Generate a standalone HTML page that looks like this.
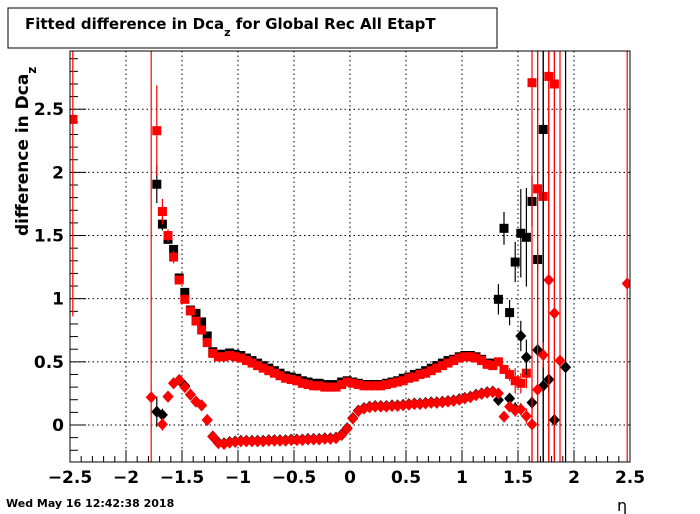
<!DOCTYPE html>
<html><head><meta charset="utf-8"><style>
html,body{margin:0;padding:0;background:#fff;width:700px;height:514px;overflow:hidden;}
svg{display:block;font-family:"DejaVu Sans","Liberation Sans",sans-serif;}
</style></head><body>
<svg id="c" width="700" height="514" viewBox="0 0 700 514" xmlns="http://www.w3.org/2000/svg">
<defs><clipPath id="fr"><rect x="70" y="51" width="560" height="411"/></clipPath></defs>
<rect x="0" y="0" width="700" height="514" fill="#fff"/>
<g id="grid"></g>
<g id="axes"></g>
<g id="marks" clip-path="url(#fr)"></g>
<rect x="70" y="51" width="560" height="411" fill="none" stroke="#000" stroke-width="1"/>
<rect x="8" y="8" width="489" height="40" fill="#fff" stroke="#000" stroke-width="1"/>
<text x="25" y="29" font-size="15" font-weight="bold">Fitted difference in Dca<tspan font-size="11" dy="7">z</tspan><tspan dy="-7"> for Global Rec All EtapT</tspan></text>
<text transform="translate(28,236) rotate(-90)" font-size="17" font-weight="bold">difference in Dca<tspan font-size="12" dy="8">z</tspan></text>
<text x="617" y="511" font-size="16">η</text>
<text x="6" y="507" font-size="11" font-weight="bold">Wed May 16 12:42:38 2018</text>
</svg>
<script>
// axis tick labels
const xTicks = [-2.5,-2,-1.5,-1,-0.5,0,0.5,1,1.5,2,2.5];
const xTickLabels = ["\u22122.5","\u22122","\u22121.5","\u22121","\u22120.5","0","0.5","1","1.5","2","2.5"];
const yTicks = [0,0.5,1,1.5,2,2.5];
const yTickLabels = ["0","0.5","1","1.5","2","2.5"];

// smooth region bin centers
const smoothEta = [-1.175,-1.125,-1.075,-1.025,-0.975,-0.925,-0.875,-0.825,-0.775,-0.725,-0.675,-0.625,-0.575,-0.525,-0.475,-0.425,-0.375,-0.325,-0.275,-0.225,-0.175,-0.125,-0.075,-0.025,0.025,0.075,0.125,0.175,0.225,0.275,0.325,0.375,0.425,0.475,0.525,0.575,0.625,0.675,0.725,0.775,0.825,0.875,0.925,0.975,1.025,1.075,1.125,1.175,1.225,1.275];
const redSqSmooth = [0.54,0.54,0.55,0.54,0.53,0.51,0.49,0.47,0.45,0.43,0.41,0.39,0.37,0.36,0.35,0.33,0.32,0.31,0.31,0.30,0.30,0.30,0.32,0.34,0.33,0.32,0.31,0.31,0.31,0.31,0.32,0.33,0.34,0.35,0.37,0.38,0.40,0.41,0.43,0.45,0.47,0.49,0.51,0.53,0.54,0.54,0.53,0.51,0.48,0.47];
const blackSqSmooth = [0.56,0.56,0.57,0.56,0.55,0.53,0.51,0.49,0.47,0.45,0.43,0.41,0.39,0.38,0.37,0.35,0.34,0.33,0.33,0.32,0.32,0.32,0.34,0.35,0.34,0.33,0.32,0.32,0.32,0.32,0.33,0.34,0.35,0.37,0.38,0.40,0.41,0.43,0.45,0.47,0.49,0.51,0.52,0.54,0.55,0.55,0.54,0.52,0.49,0.49];
const redDiaSmooth = [-0.145,-0.15,-0.14,-0.135,-0.13,-0.13,-0.13,-0.13,-0.13,-0.125,-0.125,-0.125,-0.125,-0.12,-0.12,-0.12,-0.115,-0.115,-0.115,-0.11,-0.11,-0.105,-0.08,-0.03,0.05,0.11,0.13,0.14,0.145,0.145,0.145,0.15,0.15,0.155,0.16,0.165,0.165,0.17,0.175,0.175,0.18,0.185,0.19,0.20,0.21,0.22,0.235,0.245,0.255,0.26];
const blackDiaSmooth = [-0.14,-0.145,-0.135,-0.13,-0.125,-0.125,-0.125,-0.125,-0.125,-0.12,-0.12,-0.12,-0.12,-0.115,-0.115,-0.115,-0.11,-0.11,-0.11,-0.105,-0.105,-0.1,-0.075,-0.025,0.055,0.115,0.135,0.145,0.15,0.15,0.15,0.155,0.155,0.16,0.165,0.17,0.17,0.175,0.18,0.18,0.185,0.19,0.195,0.205,0.215,0.225,0.24,0.25,0.26,0.265];

// irregular bins with errors
const blackSqEta = [-1.725,-1.675,-1.625,-1.575,-1.525,-1.475,-1.425,-1.375,-1.325,-1.275,-1.225,1.325,1.375,1.425,1.475,1.525,1.575,1.625,1.675,1.725];
const blackSqVal = [1.906,1.59,1.47,1.39,1.164,1.05,0.91,0.884,0.816,0.705,0.58,0.995,1.557,0.89,1.29,1.518,1.486,1.77,1.31,2.34];
const blackSqErr = [0.15,0.05,0.03,0.03,0.02,0.02,0.02,0.02,0.02,0.02,0.02,0.12,0.13,0.1,0.16,0.35,0.39,0.2,0.1,2.7];
const redSqEta = [-2.475,-1.725,-1.675,-1.625,-1.575,-1.525,-1.475,-1.425,-1.375,-1.325,-1.275,-1.225,1.325,1.375,1.425,1.475,1.525,1.575,1.625,1.675,1.725,1.775,1.825];
const redSqVal = [2.42,2.33,1.69,1.50,1.33,1.148,0.995,0.903,0.823,0.752,0.652,0.567,0.50,0.44,0.40,0.35,0.33,0.41,2.71,1.87,1.81,2.76,2.70];
const redSqErr = [1.56,0.36,0.1,0.05,0.05,0.02,0.02,0.02,0.02,0.02,0.02,0.02,0.03,0.03,0.05,0.1,0.08,0.12,5,5,0.05,5,5];
const blackDiaEta = [-1.725,-1.675,-1.625,-1.575,-1.525,-1.475,-1.425,-1.375,-1.325,-1.275,-1.225,1.325,1.425,1.475,1.525,1.575,1.625,1.675,1.725,1.775,1.825,1.925];
const blackDiaVal = [0.105,0.08,0.225,0.33,0.356,0.31,0.24,0.185,0.155,0.04,-0.09,0.198,0.21,0.13,0.705,0.536,0.177,0.594,0.31,0.36,0.04,0.457];
const blackDiaErr = [0.12,0.05,0.02,0.02,0.02,0.02,0.02,0.02,0.02,0.02,0.02,0.03,0.04,0.05,0.12,0.14,0.05,0.05,2.7,0.1,0.3,5];
const redDiaEta = [-1.775,-1.675,-1.625,-1.575,-1.525,-1.475,-1.425,-1.375,-1.325,-1.275,-1.225,1.325,1.375,1.425,1.475,1.525,1.575,1.625,1.675,1.725,1.775,1.825,1.875,2.475];
const redDiaVal = [0.22,0.005,0.225,0.33,0.356,0.30,0.24,0.185,0.155,0.04,-0.093,0.25,0.066,0.145,0.115,0.125,0.07,0.005,0.28,0.554,1.148,0.885,0.51,1.12];
const redDiaErr = [5,0.05,0.02,0.02,0.02,0.02,0.02,0.02,0.02,0.02,0.02,0.02,0.03,0.04,0.05,0.05,0.06,0.3,5,0.1,5,5,5,5];

const X0=70, X1=630, XMIN=-2.5, XMAX=2.5;
const Y0=462, Y1=51, YMIN=-0.293, YMAX=2.961;
function sx(v){return X0+(v-XMIN)/(XMAX-XMIN)*(X1-X0);}
function sy(v){return Y0-(v-YMIN)/(YMAX-YMIN)*(Y0-Y1);}
const NS="http://www.w3.org/2000/svg";
function mk(tag,attrs,parent){const e=document.createElementNS(NS,tag);for(const k in attrs)e.setAttribute(k,attrs[k]);parent.appendChild(e);return e;}
const grid=document.getElementById('grid'), axes=document.getElementById('axes'), marks=document.getElementById('marks');

for(let i=0;i<xTicks.length;i++){
  const x=sx(xTicks[i]);
  if(i>0&&i<xTicks.length-1){const g=mk('line',{x1:x,x2:x,y1:Y1,y2:Y0,stroke:'#000','stroke-dasharray':'1.5,3','stroke-width':1},grid);
    
    }
  const t=mk('line',{x1:x,x2:x,y1:Y0,y2:Y0-12,stroke:'#000'},axes);
  
  
  const lb=mk('text',{x:x,y:Y0+21,'text-anchor':'middle','font-size':17,'font-weight':'bold'},axes);
  lb.textContent=xTickLabels[i];
  
  
}
for(let k=-25;k<=25;k++){ if(k%5===0)continue; const x=sx(k/10);
  const t=mk('line',{x1:x,x2:x,y1:Y0,y2:Y0-6,stroke:'#000'},axes);
  
  }
for(let i=0;i<yTicks.length;i++){
  const y=sy(yTicks[i]);
  const g=mk('line',{x1:X0,x2:X1,y1:y,y2:y,stroke:'#000','stroke-dasharray':'1.5,3','stroke-width':1},grid);
  
  
  const t=mk('line',{x1:X0,x2:X0+16,y1:y,y2:y,stroke:'#000'},axes);
  
  
  const lb=mk('text',{x:X0-6,y:y+6,'text-anchor':'end','font-size':17,'font-weight':'bold'},axes);
  lb.textContent=yTickLabels[i];
  
  
}
for(let k=-2;k<=29;k++){ if(k%5===0)continue; const y=sy(k/10);
  const t=mk('line',{x1:X0,x2:X0+8,y1:y,y2:y,stroke:'#000'},axes);
  
  }

function drawSeries(etas,vals,errs,color,shape,name){
  for(let i=0;i<etas.length;i++){
    const x=sx(etas[i]), y=sy(vals[i]);
    if(errs&&errs[i]>0){
      const e=mk('line',{x1:x,x2:x,y1:sy(vals[i]+errs[i]),y2:sy(vals[i]-errs[i]),stroke:color,'stroke-width':1.2},marks);
      
      
    }
    let m;
    if(shape==='sq'){m=mk('rect',{x:x-4.5,y:y-4.5,width:9,height:9,fill:color},marks);}
    else{m=mk('polygon',{points:`${x},${y-6} ${x+5.5},${y} ${x},${y+6} ${x-5.5},${y}`,fill:color},marks);}
    
    
  }
}
drawSeries(smoothEta,blackSqSmooth,null,'#000','sq','black-square');
drawSeries(blackSqEta,blackSqVal,blackSqErr,'#000','sq','black-square');
drawSeries(smoothEta,redSqSmooth,null,'#f00','sq','red-square');
drawSeries(redSqEta,redSqVal,redSqErr,'#f00','sq','red-square');
drawSeries(smoothEta,blackDiaSmooth,null,'#000','dia','black-diamond');
drawSeries(blackDiaEta,blackDiaVal,blackDiaErr,'#000','dia','black-diamond');
drawSeries(smoothEta,redDiaSmooth,null,'#f00','dia','red-diamond');
drawSeries(redDiaEta,redDiaVal,redDiaErr,'#f00','dia','red-diamond');
</script>
</body></html>
